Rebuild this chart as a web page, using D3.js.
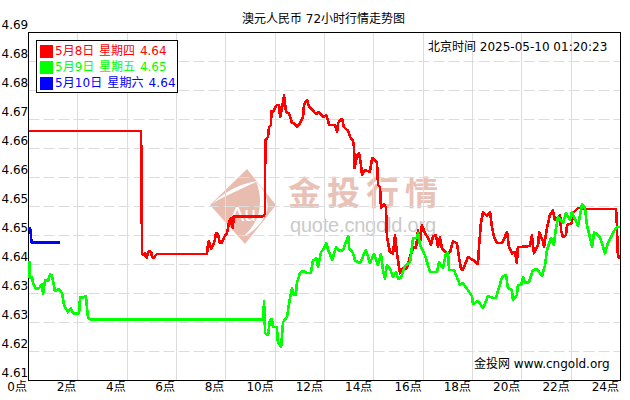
<!DOCTYPE html>
<html><head><meta charset="utf-8">
<style>html,body{margin:0;padding:0;background:#fff}svg{display:block}text{font-family:"DejaVu Sans","Noto Sans CJK SC",sans-serif;font-size:12px}</style>
<script src="https://cdn.jsdelivr.net/npm/d3@7/dist/d3.min.js"></script>
</head><body><svg id="c" width="630" height="400"></svg>
<script>
const titleText="澳元人民币 72小时行情走势图";
const clockText="北京时间 2025-05-10 01:20:23";
const creditText="金投网 www.cngold.org";
const legendLabels=["5月8日 星期四 4.64","5月9日 星期五 4.65","5月10日 星期六 4.64"];
const seriesColors=["#ff0000","#00ff00","#0000ff"];
const xTicks=[0,2,4,6,8,10,12,14,16,18,20,22,24];
const yTicks=[4.6895,4.6833,4.677,4.6708,4.6645,4.6583,4.652,4.6458,4.6395,4.6333,4.627,4.6208,4.6145];

const redHours=[0,4.56,4.58,4.60,4.68,4.72,4.76,4.80,4.84,4.89,4.97,5.01,5.09,5.13,5.21,7.24,7.28,7.32,7.40,7.48,7.56,7.60,7.68,7.76,7.84,7.93,8.05,8.13,8.21,8.25,8.29,8.31,8.33,9.51,9.59,9.60,9.71,9.75,9.83,9.85,9.91,10.07,10.16,10.20,10.28,10.36,10.44,10.56,10.68,10.76,10.88,11.01,11.13,11.17,11.29,11.37,11.54,11.66,11.78,11.94,12.07,12.11,12.19,12.43,12.51,12.55,12.63,12.71,12.79,12.96,13.04,13.16,13.20,13.22,13.32,13.40,13.48,13.52,13.64,13.84,13.93,14.13,14.17,14.25,14.29,14.41,14.49,14.53,14.65,14.78,14.86,14.94,15.06,15.18,15.34,15.47,15.63,15.71,15.79,15.87,15.95,16.07,16.20,16.32,16.40,16.52,16.60,16.68,16.76,16.97,17.09,17.21,17.37,17.45,17.53,17.61,17.82,18.02,18.22,18.26,18.34,18.43,18.59,18.71,18.79,18.87,18.99,19.20,19.40,19.48,19.60,19.72,19.80,19.84,20.01,20.33,20.41,20.49,20.66,20.70,20.86,20.90,21.02,21.14,21.26,21.34,21.55,21.59,21.67,21.79,21.83,22.03,22.07,22.28,22.48,23.82,23.86,23.88,23.94];
const redValues=[4.6683,4.6683,4.6620,4.6418,4.6416,4.6420,4.6411,4.6409,4.6420,4.6424,4.6422,4.6411,4.6409,4.6413,4.6418,4.6418,4.6441,4.6445,4.6428,4.6437,4.6448,4.6463,4.6461,4.6441,4.6441,4.6454,4.6463,4.6487,4.6495,4.6478,4.6474,4.6497,4.6499,4.6499,4.6504,4.6663,4.6670,4.6691,4.6696,4.6726,4.6724,4.6739,4.6739,4.6713,4.6732,4.6760,4.6724,4.6721,4.6700,4.6700,4.6691,4.6700,4.6713,4.6739,4.6750,4.6735,4.6726,4.6719,4.6724,4.6713,4.6717,4.6711,4.6696,4.6696,4.6680,4.6700,4.6706,4.6709,4.6691,4.6683,4.6670,4.6661,4.6646,4.6603,4.6631,4.6635,4.6609,4.6588,4.6599,4.6594,4.6625,4.6614,4.6566,4.6562,4.6517,4.6525,4.6519,4.6456,4.6422,4.6419,4.6458,4.6419,4.6376,4.6387,4.6387,4.6413,4.6433,4.6430,4.6469,4.6441,4.6480,4.6463,4.6452,4.6437,4.6456,4.6458,4.6433,4.6454,4.6430,4.6419,4.6422,4.6445,4.6441,4.6411,4.6387,4.6383,4.6411,4.6405,4.6396,4.6430,4.6484,4.6508,4.6499,4.6508,4.6476,4.6454,4.6441,4.6441,4.6465,4.6433,4.6419,4.6422,4.6398,4.6433,4.6433,4.6435,4.6458,4.6419,4.6437,4.6465,4.6445,4.6433,4.6474,4.6502,4.6512,4.6491,4.6502,4.6469,4.6454,4.6458,4.6480,4.6484,4.6506,4.6517,4.6515,4.6515,4.6474,4.6422,4.6407];

const greenHours=[0.03,0.05,0.14,0.18,0.30,0.43,0.55,0.59,0.67,0.79,0.87,0.95,1.07,1.24,1.36,1.44,1.60,1.72,1.80,2.05,2.09,2.21,2.33,2.37,2.41,2.49,9.51,9.55,9.59,9.71,9.79,9.87,9.91,10.07,10.11,10.24,10.32,10.48,10.60,10.68,10.76,10.84,10.88,11.01,11.13,11.29,11.45,11.53,11.66,11.74,11.86,11.94,12.07,12.15,12.31,12.47,12.59,12.75,12.96,13.00,13.16,13.24,13.44,13.68,13.84,14.01,14.17,14.29,14.37,14.45,14.53,14.65,14.78,14.90,14.98,15.10,15.26,15.47,15.59,15.75,15.79,15.87,16.07,16.28,16.56,16.64,16.80,16.92,17.01,17.05,17.25,17.49,17.61,17.98,18.02,18.22,18.43,18.63,18.83,18.95,19.20,19.36,19.44,19.60,19.64,19.80,19.84,19.97,20.05,20.13,20.29,20.45,20.62,20.82,20.94,21.02,21.18,21.30,21.38,21.47,21.67,21.79,21.95,22.03,22.28,22.44,22.56,22.64,22.85,22.93,23.17,23.37,23.49,23.69,23.86,23.98];
const greenValues=[4.6403,4.6366,4.6368,4.6355,4.6342,4.6344,4.6353,4.6331,4.6361,4.6359,4.6374,4.6372,4.6338,4.6342,4.6333,4.6308,4.6292,4.6301,4.6290,4.6290,4.6325,4.6323,4.6327,4.6303,4.6280,4.6277,4.6277,4.6316,4.6247,4.6243,4.6275,4.6277,4.6260,4.6260,4.6228,4.6217,4.6271,4.6282,4.6323,4.6344,4.6329,4.6329,4.6355,4.6377,4.6381,4.6377,4.6377,4.6403,4.6409,4.6390,4.6422,4.6426,4.6441,4.6426,4.6405,4.6433,4.6424,4.6426,4.6456,4.6430,4.6419,4.6403,4.6398,4.6426,4.6398,4.6418,4.6394,4.6418,4.6383,4.6364,4.6394,4.6387,4.6368,4.6379,4.6364,4.6366,4.6392,4.6400,4.6452,4.6452,4.6463,4.6437,4.6415,4.6379,4.6379,4.6400,4.6387,4.6418,4.6419,4.6383,4.6383,4.6351,4.6355,4.6327,4.6310,4.6316,4.6301,4.6327,4.6323,4.6323,4.6368,4.6372,4.6344,4.6340,4.6318,4.6329,4.6351,4.6351,4.6368,4.6355,4.6357,4.6383,4.6385,4.6370,4.6394,4.6426,4.6452,4.6437,4.6472,4.6497,4.6484,4.6506,4.6491,4.6508,4.6478,4.6525,4.6517,4.6480,4.6433,4.6465,4.6454,4.6419,4.6441,4.6463,4.6476,4.6476];

const blueHours=[0.03,0.08,0.12,1.28];
const blueValues=[4.6476,4.6469,4.6443,4.6442];

const svg=d3.select("#c");
const x=d3.scaleLinear().domain([0,24]).range([28.5,620.5]);
const y=d3.scaleLinear().domain([4.6895,4.6145]).range([32.5,380.5]);

// watermark
const wm=svg.append("g");
wm.append("path").attr("d","M210,205 L247,169 L276,205 L245,244 Z").attr("fill","#e9bcb0");
wm.append("path").attr("d","M210,206 Q232,184 258,181 Q238,190 222,198 Q214,202 210,206 Z").attr("fill","#fff");
wm.append("path").attr("d","M256,181 Q272,198 266,214 Q258,230 243,237 Q256,225 259,212 Q262,196 256,181 Z").attr("fill","#fff");
wm.append("text").attr("x",243).attr("y",221).attr("text-anchor","middle").attr("fill","#fff").style("font-size","21px").style("font-family","'Liberation Sans'").text("Au");
wm.append("text").attr("x",288).attr("y",205).attr("fill","#e9c2b7").style("font-size","33px").style("font-weight","700").style("letter-spacing","6px").style("font-family","'Noto Sans CJK SC'").text("金投行情");
wm.append("text").attr("x",290).attr("y",232).attr("fill","#cacaca").style("font-size","20px").style("font-family","'Liberation Sans'").attr("textLength",146).text("quote.cngold.org");

// grid
svg.append("g").selectAll("line").data(xTicks.slice(1,-1)).join("line")
  .attr("x1",d=>Math.round(x(d)-.5)+.5).attr("x2",d=>Math.round(x(d)-.5)+.5).attr("y1",y.range()[0]).attr("y2",y.range()[1])
  .attr("stroke","#dcdcdc").attr("stroke-width",1);
svg.append("g").selectAll("line").data(yTicks.slice(1,-1)).join("line")
  .attr("y1",d=>Math.round(y(d)-.5)+.5).attr("y2",d=>Math.round(y(d)-.5)+.5).attr("x1",x.range()[0]).attr("x2",x.range()[1])
  .attr("stroke","#dcdcdc").attr("stroke-width",1).attr("stroke-dasharray","11 4");

// axes
const ax=svg.append("g").attr("transform",`translate(0,${y.range()[1]})`)
  .call(d3.axisBottom(x).tickValues(xTicks).tickSize(0).tickFormat(d=>d+"点"));
ax.selectAll("text").attr("text-anchor","end").attr("dx",-2).attr("dy",0).attr("y",10).attr("fill","#000").style("font-size","12px").style("font-family",'"DejaVu Sans","Noto Sans CJK SC"');
const ay=svg.append("g").attr("transform",`translate(${x.range()[0]},0)`)
  .call(d3.axisLeft(y).tickValues(yTicks).tickSize(0).tickFormat(d3.format(".2f")));
ay.selectAll("text").attr("text-anchor","start").attr("x",-27).attr("dy",0).attr("y",-4).attr("fill","#000").style("font-size","12px").style("font-family",'"DejaVu Sans"');
[ax,ay].forEach(a=>a.select(".domain").remove());
svg.append("rect").attr("x",x.range()[0]).attr("y",y.range()[0]).attr("width",x.range()[1]-x.range()[0]).attr("height",y.range()[1]-y.range()[0])
  .attr("fill","none").attr("stroke","#000").attr("stroke-width",1);

// series
const line=d3.line().x(d=>x(d[0])).y(d=>y(d[1]));
[[redHours,redValues],[greenHours,greenValues],[blueHours,blueValues]].forEach(([h,v],i)=>{
  svg.append("path").datum(h.map((t,k)=>[t,v[k]])).attr("d",line).attr("fill","none")
    .attr("stroke",seriesColors[i]).attr("stroke-width",2.6).attr("stroke-linejoin","round").attr("shape-rendering","crispEdges");
});

// texts
svg.append("text").attr("x",242).attr("y",23).text(titleText);
svg.append("text").attr("x",428).attr("y",51).text(clockText);
svg.append("text").attr("x",474).attr("y",368).text(creditText);

// legend
const lg=svg.append("g");
lg.append("rect").attr("x",36.5).attr("y",40.5).attr("width",141).attr("height",52).attr("fill","#fff").attr("stroke","#000");
legendLabels.forEach((t,i)=>{
  lg.append("rect").attr("x",40).attr("y",45+i*16).attr("width",13).attr("height",13).attr("fill",seriesColors[i]);
  lg.append("text").attr("x",55).attr("y",55+i*16).attr("fill",seriesColors[i]).style("word-spacing","1px").style("letter-spacing",i==2?"0.1px":"0").text(t);
});
</script></body></html>
